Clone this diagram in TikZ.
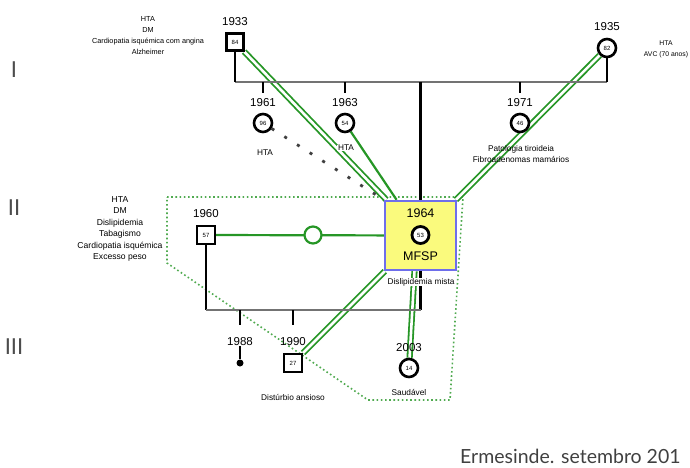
\documentclass[tikz,border=0pt]{standalone}
\usepackage{fontspec}
\setmainfont{Liberation Sans}
\newfontfamily\latofont{Lato}
\usetikzlibrary{backgrounds}
\definecolor{relgreen}{RGB}{38,150,38}
\definecolor{hhgreen}{RGB}{80,170,80}
\definecolor{idxyellow}{RGB}{250,250,125}
\definecolor{idxblue}{RGB}{110,110,235}
\tikzset{
  gen/.style={line width=2.4pt, black},
  genh/.style={line width=2.6pt, black!55},
  male/.style={draw, line width=2.2pt, fill=white, minimum size=17pt, inner sep=0pt, font=\fontsize{6}{6}\selectfont},
  female/.style={circle, draw, line width=2.6pt, fill=white, minimum size=18pt, inner sep=0pt, font=\fontsize{6}{6}\selectfont},
  yr/.style={font=\fontsize{11.5}{12}\selectfont, inner sep=0pt},
  note/.style={align=center, font=\fontsize{8.3}{11}\selectfont, inner sep=0.6pt},
  rel/.style={draw=relgreen, line width=1.8pt, double=white, double distance=2.6pt},
  rel1/.style={draw=relgreen, line width=2.2pt},
  household/.style={draw=hhgreen, line width=1.6pt, dash pattern=on 1.6pt off 2.6pt},
  distant/.style={draw=black!75, line width=2.8pt, dash pattern=on 3pt off 12pt},
  roman/.style={font=\latofont\fontsize{22}{22}\selectfont, text=black!70, inner sep=0pt}
}
\begin{document}
\begin{tikzpicture}[x=1pt,y=-1pt]
\useasboundingbox (0,0) rectangle (690,468);

% generation labels
\node[roman] (gI) at (14,70) {I};
\node[roman] (gII) at (14,208) {II};
\node[roman] (gIII) at (14,347) {III};

% generation I
\node[male] (m1933) at (235,42) {84};
\node[yr] (y1933) at (235,22) {1933};
\node[note, font=\fontsize{7.3}{11}\selectfont] (t1933) at (148,36) {HTA\\DM\\Cardiopatia isquémica com angina\\Alzheimer};
\node[female] (f1935) at (607,48) {82};
\node[yr] (y1935) at (607,27) {1935};
\node[note, font=\fontsize{6.8}{11}\selectfont] (t1935) at (666,49) {HTA\\AVC (70 anos)};

\coordinate (mlL) at (235,82);
\coordinate (mlR) at (607,82);
\coordinate (d1961) at (263,93);
\coordinate (d1963) at (345,93);
\coordinate (d1971) at (520,93);

% generation II siblings
\node[female] (f1961) at (263,123) {96};
\node[yr] (y1961) at (263,103) {1961};
\node[note] (t1961) at (265,153) {HTA};
\node[female] (f1963) at (345,123) {54};
\node[yr] (y1963) at (345,103) {1963};
\node[female] (f1971) at (520,123) {46};
\node[yr] (y1971) at (520,103) {1971};
\node[note] (t1971) at (521,154) {Patologia tiroideia\\Fibroadenomas mamários};

% index person
\node[draw=idxblue, line width=2.4pt, fill=idxyellow, minimum width=71pt, minimum height=69pt, inner sep=0pt] (index) at (420.5,235.5) {};
\node[female, line width=2.8pt, minimum size=17pt] (p1964) at (420.5,235) {53};
\node[font=\fontsize{12.5}{13}\selectfont, inner sep=0pt] (y1964) at (420.5,213) {1964};
\node[font=\fontsize{12.5}{13}\selectfont, inner sep=0pt] (mfsp) at (420.5,256) {MFSP};
\node[note, fill=white] (tidx) at (421,282) {Dislipidemia mista};

% partner
\node[male, minimum size=18pt] (m1960) at (206,235) {57};
\node[yr] (y1960) at (206,214) {1960};
\node[note, font=\fontsize{8.6}{11.4}\selectfont] (t1960) at (120,229) {HTA\\DM\\Dislipidemia\\Tabagismo\\Cardiopatia isquémica\\Excesso peso};
\node[circle, draw=relgreen, line width=2.2pt, fill=white, minimum size=17pt, inner sep=0pt] (sep) at (313,235) {};

% generation III
\coordinate (sibL) at (206,310);
\coordinate (sibR) at (420.5,310);
\coordinate (s1988) at (240,310);
\coordinate (e1988) at (240,325);
\coordinate (s1990) at (293,310);
\coordinate (e1990) at (293,325);
\node[yr] (y1988) at (240,342) {1988};
\node[circle, fill=black, minimum size=7pt, inner sep=0pt] (d1988) at (240,363) {};
\node[yr] (y1990) at (293,342) {1990};
\node[male, minimum size=18pt] (m1990) at (293,363) {27};
\node[note] (t1990) at (293,397) {Distúrbio ansioso};
\node[yr] (y2003) at (409,348) {2003};
\node[female] (f2003) at (409,368) {14};
\node[note] (t2003) at (409,392) {Saudável};

\node[note, fill=white] (t1963) at (346,148) {HTA};

\node[anchor=base west, font=\latofont\fontsize{19.5}{21}\selectfont, text=black!75, inner sep=0pt] (foot) at (460,463) {Ermesinde. setembro 201};

\begin{scope}[on background layer]
  % household
  \draw[household] (167,197) -- (463,197) -- (450,400) -- (368,400) -- (167,263) -- cycle;
  % emotional relationships
  \draw[rel] (m1933) -- (index);
  \draw[rel] (f1935) -- (index);
  \draw[rel1] (f1963) -- (index);
  \draw[distant] (f1961) -- (index.north west);
  \draw[rel] (index) -- (m1990);
  \draw[rel] ([xshift=-6pt]index.south) -- (f2003);
  \draw[rel1] (m1960) -- (index);
  % pedigree lines
  \draw[genh] (mlL) -- (mlR);
  \draw[gen] (m1933.south) -- (mlL);
  \draw[gen] (f1935.south) -- (mlR);
  \draw[gen] (d1961 |- mlL) -- (d1961);
  \draw[gen] (d1963 |- mlL) -- (d1963);
  \draw[gen] (d1971 |- mlL) -- (d1971);
  \draw[gen] (index.north |- mlL) -- (index.north);
  \draw[gen] (m1960.south) -- (sibL);
  \draw[gen] (index.south) -- (sibR);
  \draw[genh] (sibL) -- (sibR);
  \draw[gen] (s1988) -- (e1988);
  \draw[gen] (s1990) -- (e1990);
  \draw[gen, line width=1.6pt] (y1988.south) -- (d1988);
\end{scope}
\end{tikzpicture}
\end{document}
